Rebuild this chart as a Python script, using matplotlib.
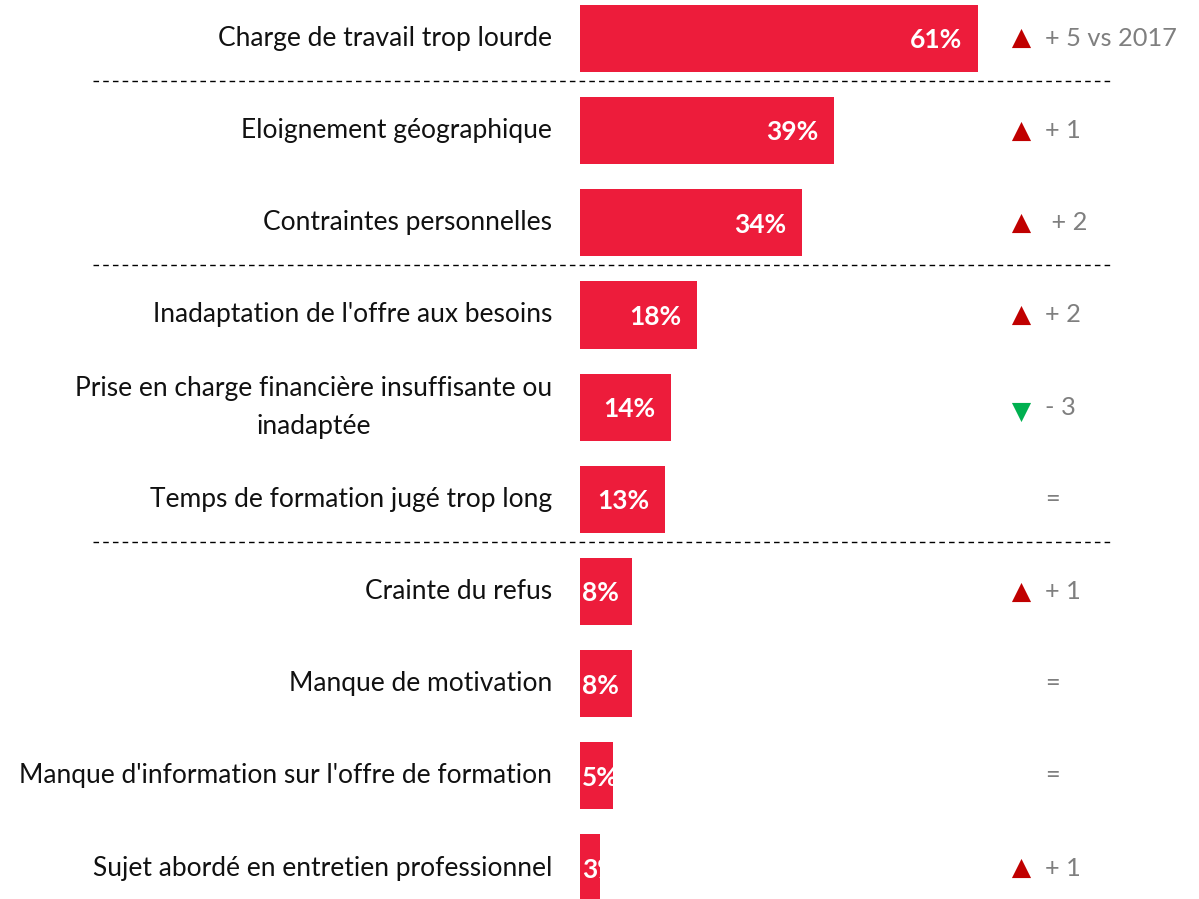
import matplotlib.pyplot as plt
from matplotlib.transforms import blended_transform_factory

##### data #####
labels = [
    "Charge de travail trop lourde",
    "Eloignement géographique",
    "Contraintes personnelles",
    "Inadaptation de l'offre aux besoins",
    "Prise en charge financière insuffisante ou\ninadaptée",
    "Temps de formation jugé trop long",
    "Crainte du refus",
    "Manque de motivation",
    "Manque d'information sur l'offre de formation",
    "Sujet abordé en entretien professionnel",
]
values = [61, 39, 34, 18, 14, 13, 8, 8, 5, 3]
# change vs 2017: +1 up, -1 down, 0 unchanged
trend = [1, 1, 1, 1, -1, 0, 1, 0, 0, 1]
trend_text = ["+ 5 vs 2017", "+ 1", " + 2", "+ 2", "- 3", "=", "+ 1", "=", "=", "+ 1"]
separators_after = [0, 2, 5]

##### style #####
bar_color = "#ED1C3B"
up_color = "#C00000"
down_color = "#00B050"
grey = "#7F7F7F"
font = "Lato"

W, H = 1199, 899
fig = plt.figure(figsize=(W / 100, H / 100), dpi=100)
ax = fig.add_axes([580 / W, 0, 1 - 580 / W, 1])
ax.set_xlim(0, (W - 580) / 6.52)
ax.set_ylim(9 + (H - 868) / 92.2, -38.5 / 92.2)
ax.axis("off")

rows = list(range(len(values)))
bars = ax.barh(rows, values, height=0.73, color=bar_color, left=0)

# value labels inside the bars, clipped to the bar
for bar, v in zip(bars, values):
    t = ax.text(max(v - 10.4, 0.3), bar.get_y() + bar.get_height() / 2 + 0.02, f"{v}%",
                ha="left", va="center", color="white", fontsize=19,
                fontweight="bold", family=font)
    t.set_clip_path(bar)

# category labels on the left
lab_tr = blended_transform_factory(fig.transFigure, ax.transData)
for r, lab in zip(rows, labels):
    ax.text(552 / W, r, lab, transform=lab_tr, ha="right", va="center",
            multialignment="center", fontsize=19, family=font,
            color="#111111", linespacing=1.65, clip_on=False)

# evolution markers on the right
for r, tr, txt in zip(rows, trend, trend_text):
    if tr > 0:
        ax.scatter([1021 / W], [r + 0.0], marker="^", s=190, color=up_color,
                   transform=lab_tr, clip_on=False, linewidths=0)
    elif tr < 0:
        ax.scatter([1021 / W], [r + 0.05], marker="v", s=190, color=down_color,
                   transform=lab_tr, clip_on=False, linewidths=0)
    if tr == 0:
        ax.text(1052 / W, r, txt, transform=lab_tr, ha="center", va="center",
                fontsize=18.3, family=font, color=grey, clip_on=False)
    else:
        ax.text(1045 / W, r, txt, transform=lab_tr, ha="left", va="center",
                fontsize=18.3, family=font, color=grey, clip_on=False)

# dashed group separators
for s in separators_after:
    y = s + 0.46
    ax.plot([93 / W, 1112 / W], [y, y], transform=lab_tr, color="black",
            lw=1, ls=(0, (4, 3)), clip_on=False)

fig.savefig("out.png", dpi=100)
